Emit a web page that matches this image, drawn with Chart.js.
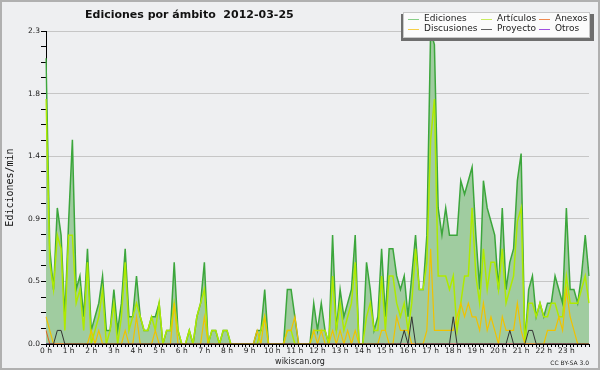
<!DOCTYPE html>
<html>
<head>
<meta charset="utf-8">
<script src="https://cdn.jsdelivr.net/npm/chart.js@4.4.0/dist/chart.umd.min.js"></script>
<style>
  html, body { margin: 0; padding: 0; background: #eeeff1; }
  canvas { display: block; }
</style>
</head>
<body>
<canvas id="editsChart" width="600" height="370"></canvas>
<script>
// one point every 10 minutes, 0 h .. 24 h
const hourLabels = ['0 h','1 h','2 h','3 h','4 h','5 h','6 h','7 h','8 h','9 h','10 h','11 h',
  '12 h','13 h','14 h','15 h','16 h','17 h','18 h','19 h','20 h','21 h','22 h','23 h'];

const yMax = 2.3;
const yMajorTicks = [0, 0.46, 0.92, 1.38, 1.84, 2.3];

const ediciones = [
  2.1,0.7,0.4,1.0,0.8,0.2,0.9,1.5,0.4,0.5,
  0.2,0.7,0.1,0.2,0.3,0.5,0.1,0.1,0.4,0.1,
  0.3,0.7,0.2,0.2,0.5,0.2,0.1,0.1,0.2,0.2,
  0.3,0,0.1,0.1,0.6,0.1,0,0,0.1,0,
  0.2,0.3,0.6,0,0.1,0.1,0,0.1,0.1,0,
  0,0,0,0,0,0,0.1,0.1,0.4,0,
  0,0,0,0,0.4,0.4,0.2,0,0,0,
  0,0.3,0.1,0.3,0.1,0,0.8,0.1,0.4,0.2,
  0.3,0.4,0.8,0,0,0.6,0.4,0.1,0.2,0.7,
  0.2,0.7,0.7,0.5,0.4,0.5,0.2,0.5,0.8,0.4,
  0.4,0.8,2.3,2.2,1.0,0.8,1.0,0.8,0.8,0.8,
  1.2,1.1,1.2,1.3,0.8,0.4,1.2,1.0,0.9,0.8,
  0.4,1.0,0.4,0.6,0.7,1.2,1.4,0,0.4,0.5,
  0.2,0.3,0.2,0.3,0.3,0.5,0.4,0.3,1.0,0.4,
  0.4,0.3,0.5,0.8,0.5
];

const articulos = [
  1.8,0.6,0.4,0.8,0.7,0.1,0.8,0.8,0.3,0.4,
  0.1,0.6,0,0.1,0.2,0.4,0,0.1,0.3,0,
  0.2,0.6,0.1,0.2,0.3,0.2,0.1,0.1,0.2,0.1,
  0.3,0,0.1,0.1,0.3,0.1,0,0,0.1,0,
  0.2,0.3,0.4,0,0.1,0.1,0,0.1,0.1,0,
  0,0,0,0,0,0,0,0.1,0.2,0,
  0,0,0,0,0.1,0.1,0,0,0,0,
  0,0.1,0.1,0.1,0.1,0,0.5,0.1,0.3,0.1,
  0.2,0.3,0.6,0,0,0.2,0.3,0.1,0.1,0.5,
  0.1,0.5,0.5,0.3,0.2,0.3,0.1,0.3,0.7,0.4,
  0.4,0.6,1.5,1.8,0.5,0.5,0.5,0.4,0.5,0.1,
  0.3,0.5,0.5,1.0,0.5,0.3,0.7,0.4,0.6,0.6,
  0.4,0.7,0.3,0.4,0.5,0.9,1.0,0,0.3,0.3,
  0.2,0.3,0.2,0.2,0.3,0.3,0.2,0.2,0.5,0.3,
  0.3,0.3,0.4,0.5,0.3
];

const discusiones = [
  0.2,0.1,0,0,0,0,0,0,0,0,
  0,0,0.1,0,0.1,0,0,0,0,0,
  0,0.1,0,0,0.2,0,0,0,0,0.1,
  0,0,0,0,0.3,0,0,0,0,0,
  0,0,0.2,0,0,0,0,0,0,0,
  0,0,0,0,0,0,0.1,0,0.2,0,
  0,0,0,0,0.1,0.1,0.2,0,0,0,
  0,0.1,0,0.1,0,0,0.1,0,0.1,0,
  0.1,0,0.1,0,0,0,0,0,0,0.1,
  0.1,0,0,0.2,0.1,0.1,0.1,0,0,0,
  0,0.1,0.7,0.1,0.1,0.1,0.1,0.1,0.1,0.2,
  0.3,0.2,0.3,0.2,0.2,0.1,0.3,0.1,0.2,0.1,
  0,0.2,0.1,0.1,0.1,0.3,0.1,0,0,0,
  0,0,0,0.1,0.1,0.1,0.2,0.1,0.4,0.2,
  0.1,0,0,0,0
];

const anexos = [
  0.1,0,0,0,0,0,0,0,0,0,
  0,0,0,0,0,0,0,0,0,0,
  0,0,0,0,0,0,0,0,0,0,
  0,0,0,0,0,0,0,0,0,0,
  0,0,0,0,0,0,0,0,0,0,
  0,0,0,0,0,0,0,0,0,0,
  0,0,0,0,0,0,0,0,0,0,
  0,0,0,0,0,0,0,0,0,0,
  0,0,0,0,0,0,0,0,0,0,
  0,0,0,0,0,0,0,0,0,0,
  0,0,0,0,0,0,0,0,0,0,
  0,0,0,0,0,0,0,0,0,0,
  0,0,0,0,0,0,0,0,0,0,
  0,0,0,0,0,0,0,0,0,0,
  0,0,0,0,0
];

const proyecto = [
  0,0,0,0.1,0.1,0,0,0,0,0,
  0,0,0,0,0,0,0,0,0,0,
  0,0,0,0,0,0,0,0,0,0,
  0,0,0,0,0,0,0,0,0,0,
  0,0,0,0,0,0,0,0,0,0,
  0,0,0,0,0,0,0,0,0,0,
  0,0,0,0,0,0,0,0,0,0,
  0,0,0,0,0,0,0,0,0,0,
  0,0,0,0,0,0,0,0,0,0,
  0,0,0,0,0,0.1,0,0.2,0,0,
  0,0,0,0,0,0,0,0,0.2,0,
  0,0,0,0,0,0,0,0,0,0,
  0,0,0,0.1,0,0,0,0,0.1,0.1,
  0,0,0,0,0,0,0,0,0,0,
  0,0,0,0,0
];

const otros = [
  0,0,0,0,0,0,0,0,0,0,
  0,0,0,0,0,0,0,0,0,0,
  0,0,0,0,0,0,0,0,0,0,
  0,0,0,0,0,0,0,0,0,0,
  0,0,0,0,0,0,0,0,0,0,
  0,0,0,0,0,0,0,0,0,0,
  0,0,0,0,0,0,0,0,0,0,
  0,0,0,0,0,0,0,0,0,0,
  0,0,0,0,0,0,0,0,0,0,
  0,0,0,0,0,0,0,0,0,0,
  0,0,0,0,0,0,0,0,0,0,
  0,0,0,0,0,0,0,0,0,0,
  0,0,0,0,0,0,0,0,0,0,
  0,0,0,0,0,0,0,0,0,0,
  0,0,0,0,0
];

// x labels: hour name every 6th point, blank otherwise
const xLabels = ediciones.map((_, i) => (i % 6 === 0 && hourLabels[i / 6]) ? hourLabels[i / 6] : '');

// y ticks: majors plus 3 minor ticks in between
const yTickValues = [];
yMajorTicks.forEach((v, i) => {
  yTickValues.push(v);
  if (i < yMajorTicks.length - 1) {
    const step = (yMajorTicks[i + 1] - v) / 4;
    for (let k = 1; k < 4; k++) yTickValues.push(v + step * k);
  }
});

const legendItems = [
  { text: 'Ediciones',   color: '#88cf88', col: 0, row: 0 },
  { text: 'Artículos',   color: '#c8ec60', col: 1, row: 0 },
  { text: 'Anexos',      color: '#f08a50', col: 2, row: 0 },
  { text: 'Discusiones', color: '#f6cf48', col: 0, row: 1 },
  { text: 'Proyecto',    color: '#606060', col: 1, row: 1 },
  { text: 'Otros',       color: '#a050e0', col: 2, row: 1 }
];

const backdrop = {
  id: 'backdrop',
  beforeDraw(chart) {
    const c = chart.ctx;
    c.save();
    c.fillStyle = '#eeeff1';
    c.fillRect(0, 0, chart.width, chart.height);
    c.strokeStyle = '#b0b0b0';
    c.lineWidth = 2;
    c.strokeRect(1, 1, chart.width - 2, chart.height - 2);
    c.restore();
  }
};

const decorations = {
  id: 'decorations',
  afterDraw(chart) {
    const c = chart.ctx;
    c.save();
    // title
    c.fillStyle = '#111';
    c.font = 'bold 11px "DejaVu Sans"';
    c.textBaseline = 'alphabetic';
    c.textAlign = 'left';
    c.fillText('Ediciones por ámbito  2012-03-25', 85, 18);

    // footer
    c.font = '8px "DejaVu Sans"';
    c.textAlign = 'center';
    c.fillStyle = '#222';
    c.fillText('wikiscan.org', 300, 364);
    c.font = '6px "DejaVu Sans"';
    c.textAlign = 'right';
    c.fillText('CC BY-SA 3.0', 589, 365);

    // legend box with shadow
    c.fillStyle = '#6e6e6e';
    c.fillRect(401, 14, 193, 27);
    c.fillStyle = '#fbfbfb';
    c.fillRect(403, 12, 187, 26);
    c.strokeStyle = '#c8c8c8';
    c.lineWidth = 1;
    c.strokeRect(403.5, 12.5, 186, 25);

    const colX = [408, 481, 539];
    const rowY = [19, 29];
    c.font = '9px "DejaVu Sans"';
    c.textAlign = 'left';
    c.textBaseline = 'middle';
    legendItems.forEach(item => {
      const x = colX[item.col];
      const y = rowY[item.row];
      c.strokeStyle = item.color;
      c.lineWidth = 1;
      c.beginPath();
      c.moveTo(x, y + 0.5);
      c.lineTo(x + 11, y + 0.5);
      c.stroke();
      c.fillStyle = '#222';
      c.fillText(item.text, x + 16, y);
    });
    c.restore();
  }
};

const ctx = document.getElementById('editsChart').getContext('2d');
const editsChart = new Chart(ctx, {
  type: 'line',
  data: {
    labels: xLabels,
    datasets: [
      { label: 'Ediciones', data: ediciones, borderColor: '#3ca63c', backgroundColor: '#a0cca0',
        fill: 'origin', borderWidth: 1.5, order: 10 },
      { label: 'Artículos', data: articulos, borderColor: '#aeea00', borderWidth: 1.5, fill: false, order: 4 },
      { label: 'Anexos', data: anexos, borderColor: '#e0601c', borderWidth: 1, fill: false, order: 2 },
      { label: 'Discusiones', data: discusiones, borderColor: '#f0c200', borderWidth: 1.2, fill: false, order: 3 },
      { label: 'Proyecto', data: proyecto, borderColor: '#333333', borderWidth: 1, fill: false, order: 1 },
      { label: 'Otros', data: otros, borderColor: '#8a2be2', borderWidth: 1, fill: false, order: 5 }
    ]
  },
  options: {
    responsive: false,
    animation: false,
    devicePixelRatio: 1,
    layout: { padding: { top: 31, right: 11, left: 0, bottom: 0 } },
    elements: { point: { radius: 0 }, line: { tension: 0 } },
    plugins: {
      legend: { display: false },
      tooltip: { enabled: false }
    },
    scales: {
      x: {
        type: 'category',
        offset: false,
        z: 1,
        afterFit(scale) { scale.height = 26; },
        grid: { display: true, drawOnChartArea: false, drawTicks: true, tickLength: 3, tickColor: '#000', offset: false },
        border: { display: true, color: '#000', width: 1 },
        ticks: {
          autoSkip: false, maxRotation: 0, minRotation: 0, padding: 0,
          color: '#222', font: { family: 'DejaVu Sans', size: 7.5 }
        }
      },
      y: {
        min: 0,
        max: yMax,
        afterFit(scale) { scale.width = 46; },
        afterBuildTicks(scale) { scale.ticks = yTickValues.map(v => ({ value: v })); },
        grid: {
          color: c => (c.index % 4 === 0 ? '#c6c6c6' : 'rgba(0,0,0,0)'),
          tickColor: '#000', tickLength: 5, drawTicks: true
        },
        border: { color: '#000' },
        ticks: {
          padding: 1, color: '#222', font: { family: 'DejaVu Sans', size: 7.5 },
          callback: (v, i) => (i % 4 === 0 ? Number(v).toFixed(1) : '')
        },
        title: {
          display: true, text: 'Ediciones/min', color: '#111',
          font: { family: 'DejaVu Sans Mono', size: 10 }, padding: { top: 4, bottom: 2 }
        }
      }
    }
  },
  plugins: [backdrop, decorations]
});
</script>
</body>
</html>
